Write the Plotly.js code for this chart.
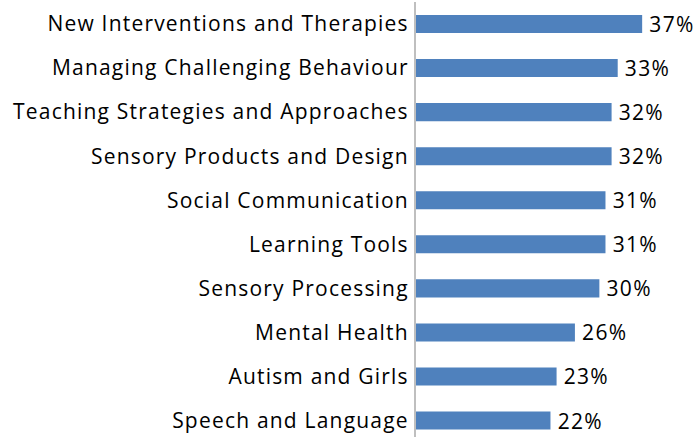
<!DOCTYPE html>
<html><head><meta charset="utf-8">
<script src="https://cdn.plot.ly/plotly-3.0.1.min.js"></script>
<style>html,body{margin:0;padding:0;background:#fff}#chart{width:699px;height:437px}
#chart .ytick text{letter-spacing:1.2px}
#chart .bars text{letter-spacing:1.3px}
</style>
</head><body><div id="chart"></div>
<script>
const categories = ["New Interventions and Therapies","Managing Challenging Behaviour","Teaching Strategies and Approaches","Sensory Products and Design","Social Communication","Learning Tools","Sensory Processing","Mental Health","Autism and Girls","Speech and Language"];
const values = [37,33,32,32,31,31,30,26,23,22];
const valueLabels = values.map(v => " " + v + "%");

const FONT = "'Open Sans', sans-serif";
Plotly.newPlot("chart", [{
  type: "bar", orientation: "h",
  x: values, y: categories,
  text: valueLabels, textposition: "outside", cliponaxis: false, constraintext: "none",
  textfont: {family: FONT, size: 21, color: "#000"},
  marker: {color: "#4F81BD"},
  hoverinfo: "none"
}], {
  width: 699, height: 437,
  margin: {l: 416, r: 0, t: 2, b: 0, pad: 0},
  bargap: 0.59,
  showlegend: false,
  paper_bgcolor: "#fff", plot_bgcolor: "#fff",
  font: {family: FONT, size: 21, color: "#000"},
  xaxis: {range: [0, 46.3], visible: false, fixedrange: true},
  yaxis: {type: "category", range: [9.374, -0.5], showline: true, linecolor: "#BFBFBF", linewidth: 2,
          showgrid: false, zeroline: false, ticks: "", ticklabelstandoff: 1,
          tickfont: {family: FONT, size: 21, color: "#000"}}
}, {staticPlot: true});
</script></body></html>
